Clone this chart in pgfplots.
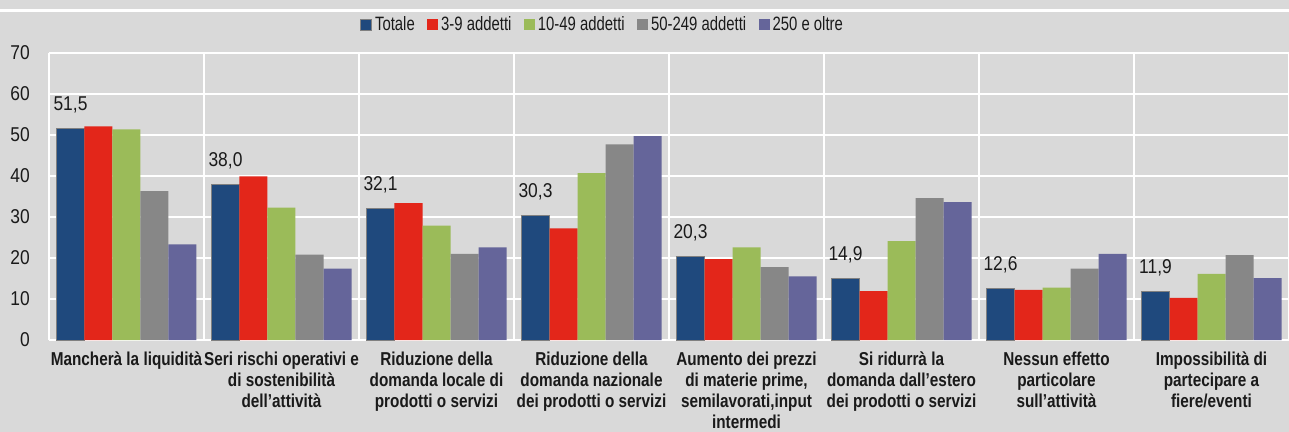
\documentclass[border=0pt]{standalone}
\usepackage{fontspec}
\setmainfont{Liberation Sans}[FakeStretch=0.82]
\newfontfamily\numfont{Liberation Sans}[FakeStretch=0.87]
\newfontfamily\legfont{Liberation Sans}[FakeStretch=0.77]
\usepackage{pgfplots}
\usepackage{pgfplotstable}
\pgfplotsset{compat=1.18}
\newlength\px \setlength\px{0.75pt}
\definecolor{bg}{HTML}{D9D9D9}
\definecolor{ctot}{HTML}{1F497D}
\definecolor{cred}{HTML}{E3261A}
\definecolor{cgreen}{HTML}{9BBB59}
\definecolor{cgray}{HTML}{878787}
\definecolor{cpurp}{HTML}{65659A}
\definecolor{txt}{HTML}{1A1A1A}

\pgfplotstableread{
x tot a b c d
0.5 51.5 52.1 51.4 36.3 23.3
1.5 38.0 39.9 32.3 20.8 17.4
2.5 32.1 33.4 27.9 21.0 22.6
3.5 30.3 27.2 40.7 47.7 49.7
4.5 20.3 19.7 22.6 17.8 15.5
5.5 14.9 11.9 24.1 34.6 33.6
6.5 12.6 12.2 12.8 17.4 21.0
7.5 11.9 10.3 16.1 20.7 15.1
}\data

\begin{document}
\begin{tikzpicture}
\useasboundingbox (0,0) rectangle (1289\px,432\px);
\fill[bg] (0,0) rectangle (1289\px,432\px);
\draw[white, line width=2.5\px] (0,421.5\px) -- (1289\px,421.5\px);
\begin{axis}[
  at={(49\px,92\px)}, anchor=south west,
  scale only axis,
  width=1240\px, height=287\px,
  xmin=0, xmax=8, ymin=0, ymax=70,
  axis line style={draw=none},
  ytick={0,10,...,70},
  xtick={0,1,...,8},
  xticklabels={},
  major tick length=0pt,
  grid=major,
  grid style={white, line width=1.5\px},
  extra x ticks={0.5,1.5,...,7.5},
  extra x tick labels={
    Mancherà la liquidità,
    {Seri rischi operativi e\\di sostenibilità\\dell’attività},
    {Riduzione della\\domanda locale di\\prodotti o servizi},
    {Riduzione della\\domanda nazionale\\dei prodotti o servizi},
    {Aumento dei prezzi\\di materie prime,\\semilavorati,input\\intermedi},
    {Si ridurrà la\\domanda dall’estero\\dei prodotti o servizi},
    {Nessun effetto\\particolare\\sull’attività},
    {Impossibilità di\\partecipare a\\fiere/eventi}},
  extra x tick style={grid=none, major tick length=0pt,
    tick label style={font=\fontsize{14pt}{15.75pt}\selectfont\bfseries, text=txt, align=center, anchor=north, inner sep=0pt, yshift=-12\px}},
  yticklabel style={font=\numfont\fontsize{15pt}{17pt}\selectfont, text=txt, anchor=east, inner sep=0pt, xshift=-19\px},
  /pgf/number format/assume math mode=true,
  ybar=0pt,
  bar width=28\px,
  legend columns=-1,
  legend style={at={(0.4468,1.0976)}, anchor=center, draw=none, fill=none,
    font=\legfont\fontsize{14.5pt}{17pt}\selectfont, text=txt, inner sep=0pt,
    /tikz/every even column/.append style={column sep=10\px}},
  legend image code/.code={\fill[#1] (0pt,-5.5\px) rectangle (11\px,5.5\px);},
  clip=false,
]
\addplot[fill=ctot, draw=gray, line width=1\px,
  nodes near coords, nodes near coords style={font=\numfont\fontsize{15pt}{17pt}\selectfont, text=txt, anchor=south, inner sep=0pt, yshift=15\px},
  /pgf/number format/.cd, use comma, fixed, fixed zerofill, precision=1, assume math mode=true]
  table[x=x, y=tot] {\data};
\addplot[fill=cred, draw=none] table[x=x, y=a] {\data};
\addplot[fill=cgreen, draw=none] table[x=x, y=b] {\data};
\addplot[fill=cgray, draw=none] table[x=x, y=c] {\data};
\addplot[fill=cpurp, draw=none] table[x=x, y=d] {\data};
\legend{Totale, 3-9 addetti, 10-49 addetti, 50-249 addetti, 250 e oltre}
\end{axis}
\end{tikzpicture}
\end{document}
